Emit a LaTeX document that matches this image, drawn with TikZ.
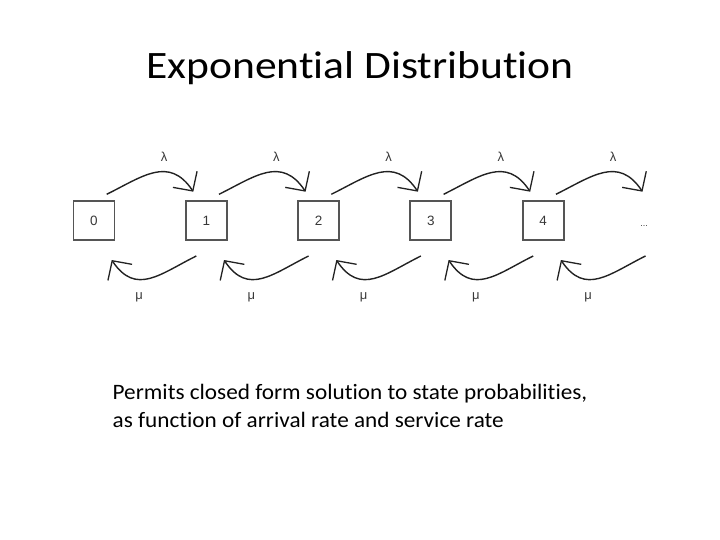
\documentclass[tikz,border=0pt]{standalone}
\usepackage{fontspec}
\setmainfont[Ligatures={NoCommon,NoRare,NoContextual}]{Carlito}
\newfontfamily\lblfont{Liberation Sans}
\usetikzlibrary{arrows.meta}
\definecolor{boxgray}{HTML}{555555}
\definecolor{arcgray}{HTML}{222222}
\definecolor{lblgray}{HTML}{383838}
\tikzset{
  statebox/.style={draw=boxgray, line width=1.9pt, minimum width=41pt, minimum height=39pt, inner sep=0pt, font=\lblfont\fontsize{13.5}{13.5}\selectfont, text=lblgray},
  arc/.style={draw=arcgray, line width=1.4pt, -{Straight Barb[length=14pt,width=29pt,line width=1.3pt]}},
  ratelbl/.style={font=\lblfont\fontsize{13}{13}\selectfont, text=lblgray, inner sep=0pt},
  bodytext/.style={anchor=base west, font=\fontsize{22}{28}\selectfont, inner sep=0pt}
}
\begin{document}
\begin{tikzpicture}[x=1pt,y=-1pt]
\useasboundingbox (0,0) rectangle (720,540);
\node[anchor=base, font=\fontsize{38.8}{44}\selectfont, inner sep=0pt] (title) at (360,79) {\scalebox{1.122}[1]{Exponential Distribution}};
\foreach \i/\x in {0/94,1/206.3,2/318.6,3/430.9,4/543.2}{
  \node[statebox] (s\i) at (\x,220.5) {\i};
}
\coordinate (s5) at (655.5,220.5);
\node[font=\lblfont\fontsize{9}{9}\selectfont, text=lblgray, inner sep=0pt] (dots) at (644,226) {...};
\foreach \i [evaluate=\i as \j using int(\i+1)] in {0,...,4}{
  \draw[arc] ([shift={(12.7,-26.2)}]s\i.center) .. controls ([shift={(48.7,-44)}]s\i.center) and ([shift={(-37.2,-65)}]s\j.center) .. ([shift={(-13,-28.8)}]s\j.center);
  \node[ratelbl] (lam\i) at ([shift={(70,-63.5)}]s\i.center) {λ};
  \draw[arc] ([shift={(-10,35.5)}]s\j.center) .. controls ([shift={(-46,53.3)}]s\j.center) and ([shift={(41.9,75.7)}]s\i.center) .. ([shift={(17.7,39.5)}]s\i.center);
  \node[ratelbl] (mu\i) at ([shift={(45,76.5)}]s\i.center) {μ};
}
\node[bodytext] (line1) at (112.5,399.3) {\scalebox{1.055}[1]{Permits closed form solution to state probabilities,}};
\node[bodytext] (line2) at (112.5,427.7) {\scalebox{1.055}[1]{as function of arrival rate and service rate}};
\end{tikzpicture}
\end{document}
